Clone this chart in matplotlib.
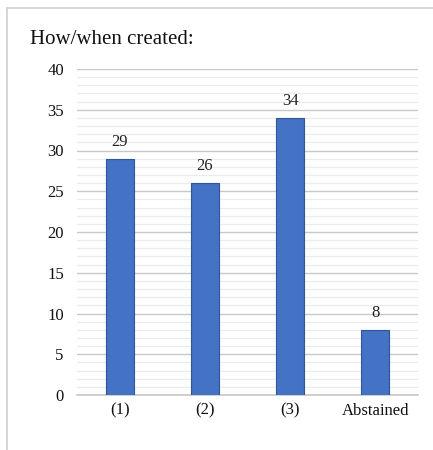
import numpy as np
import matplotlib.pyplot as plt
from matplotlib.lines import Line2D

# data
categories = ['(1)', '(2)', '(3)', 'Abstained']
counts = [29, 26, 34, 8]
y_ticks = [0, 5, 10, 15, 20, 25, 30, 35, 40]

plt.rcParams['font.family'] = ['Liberation Serif', 'DejaVu Serif']

fig = plt.figure(figsize=(4.33, 4.5), dpi=100)
ax = fig.add_axes([77 / 433, 1 - 395 / 450, 341 / 433, 326 / 450])

x = np.arange(len(categories))
bars = ax.bar(x, counts, width=0.33, color='#4472C4', edgecolor='#2F5597',
              linewidth=0.8, zorder=3)

# value labels above bars
for b, v in zip(bars, counts):
    ax.text(b.get_x() + b.get_width() / 2, v + 1.1, str(v),
            ha='center', va='bottom', fontsize=12, color='#222222')

ax.set_xlim(-0.5, len(categories) - 0.5)
ax.set_ylim(0, 40)
ax.set_xticks(x)
ax.set_xticklabels(categories, fontsize=12, color='#111111')
ax.set_yticks(y_ticks)
ax.set_yticklabels([str(t) for t in y_ticks], fontsize=12, color='#111111')
ax.set_yticks(np.arange(0, 41, 1), minor=True)

ax.grid(axis='y', which='major', color='#C8C8C8', linewidth=1.0, zorder=0)
ax.grid(axis='y', which='minor', color='#EBEBEB', linewidth=0.8, zorder=0)
ax.tick_params(axis='both', which='both', length=0)
ax.tick_params(axis='y', pad=9.5)
ax.tick_params(axis='x', pad=5.5)
for s in ['top', 'right', 'left']:
    ax.spines[s].set_visible(False)
ax.spines['bottom'].set_color('#C8C8C8')
ax.spines['bottom'].set_linewidth(1.2)

fig.text(30 / 433, 1 - 40 / 450, 'How/when created:', fontsize=15,
         ha='left', va='center', color='#111111')

# outer chart border (top and left visible in the crop)
fig.add_artist(Line2D([7 / 433, 1.0], [1 - 8 / 450, 1 - 8 / 450],
                      transform=fig.transFigure, color='#D0D0D0', linewidth=1.2))
fig.add_artist(Line2D([7 / 433, 7 / 433], [0.0, 1 - 8 / 450],
                      transform=fig.transFigure, color='#D0D0D0', linewidth=1.2))

fig.savefig('out.png', dpi=100)
